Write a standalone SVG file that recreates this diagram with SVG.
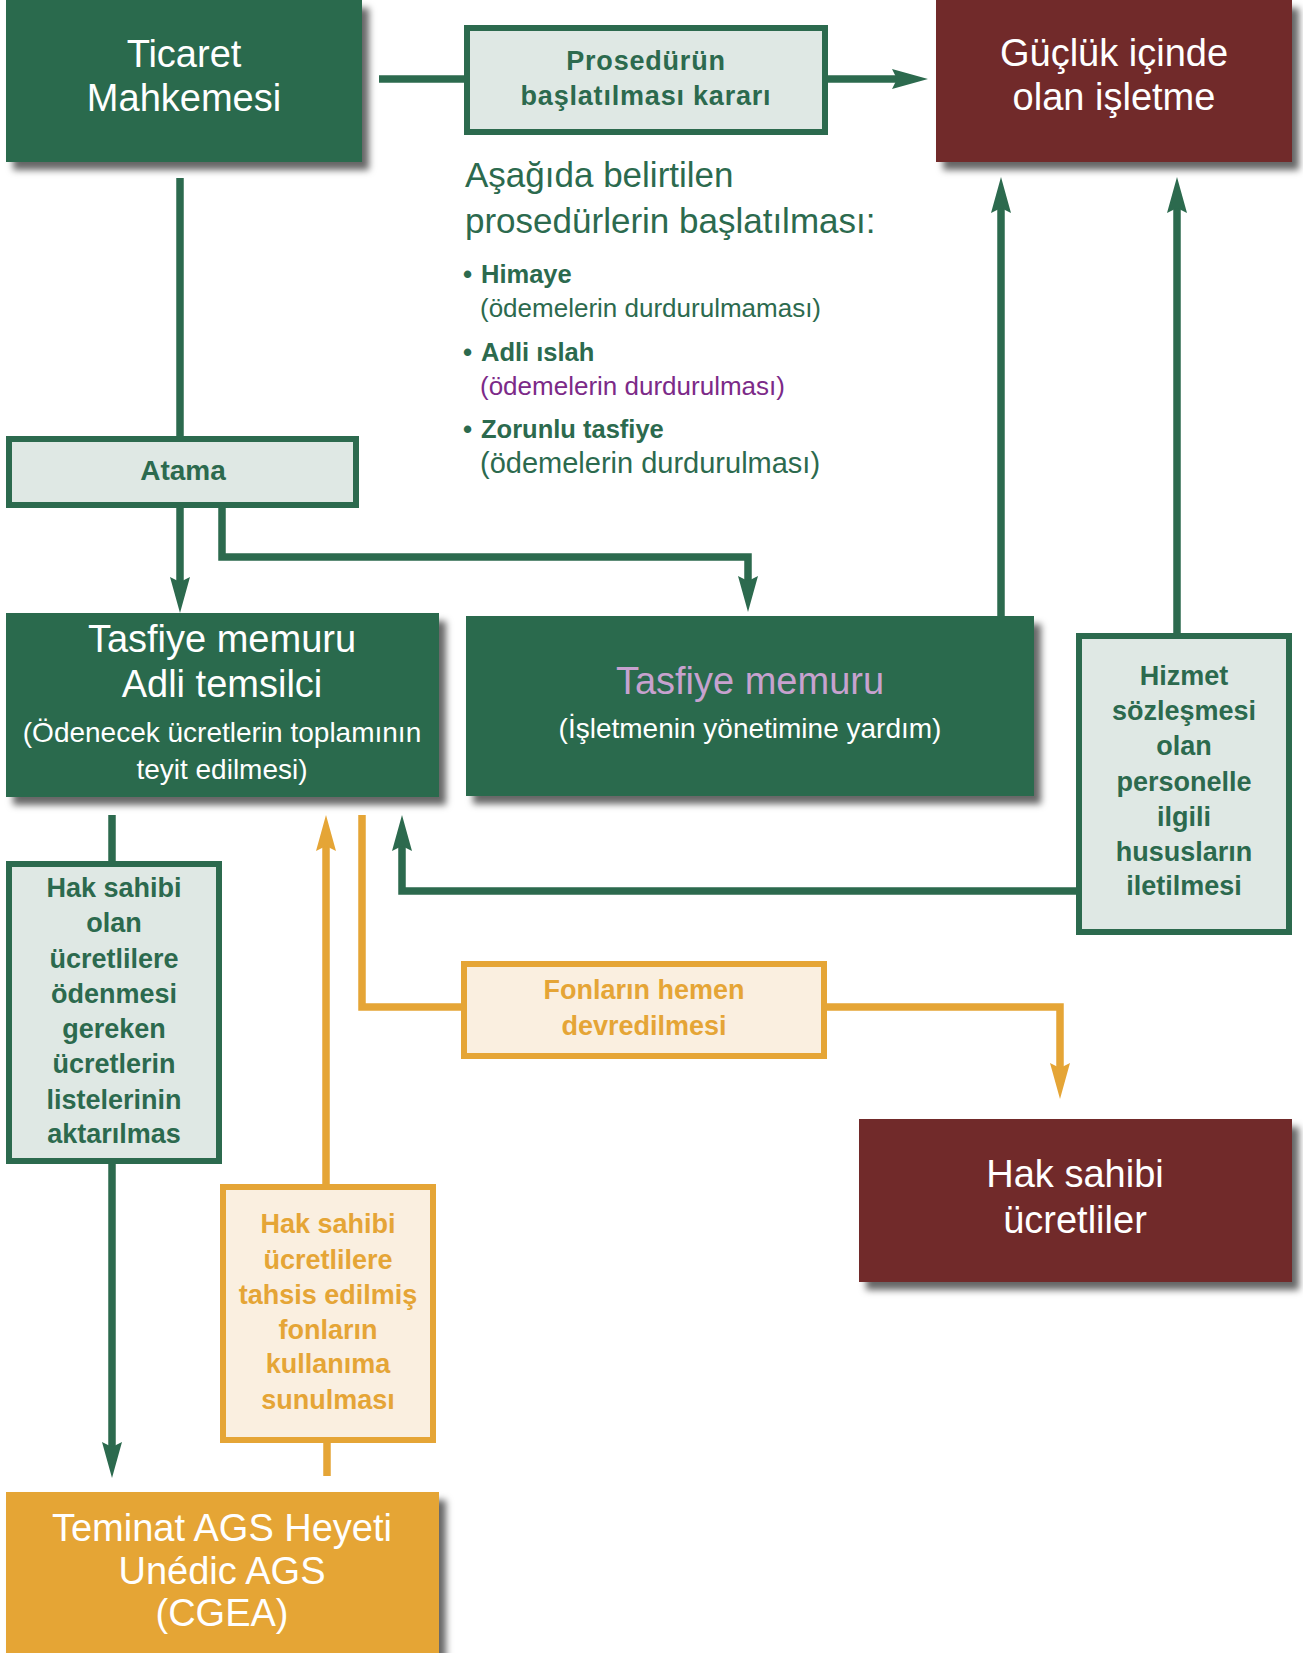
<svg xmlns="http://www.w3.org/2000/svg" width="1303" height="1653" viewBox="0 0 1303 1653">
<style>
text{font-family:"Liberation Sans",Arial,sans-serif;text-anchor:middle}
.big{font-size:38px;fill:#fff}
.sub{font-size:28px;fill:#fff}
.lb{font-size:27px;font-weight:bold;fill:#2c6a4e}
.ob{font-size:27px;font-weight:bold;fill:#e5a536}
.gl{fill:none;stroke:#2c6a4e;stroke-width:7.5}
.ol{fill:none;stroke:#e5a536;stroke-width:7.5}
.gbox{fill:#2c6a4e}
.rbox{fill:#71292a}
.obox{fill:#e5a536}
.lbox{fill:#dfe8e4;stroke:#2c6a4e;stroke-width:6}
.lobox{fill:#faefe0;stroke:#e5a536;stroke-width:6}
.info{font-family:"Liberation Sans",Arial,sans-serif;text-anchor:start;fill:#2c6a4e}
.bul{font-size:26px;font-weight:bold}
</style>
<defs>
<filter id="sh" x="-10%" y="-10%" width="130%" height="140%">
<feDropShadow dx="7" dy="8" stdDeviation="3.5" flood-color="#000" flood-opacity="0.6"/>
</filter>
<marker id="ag" markerUnits="userSpaceOnUse" markerWidth="40" markerHeight="24" refX="6" refY="11" orient="auto">
<path d="M0,1 L36,11 L0,21 L5,11 Z" fill="#2c6a4e"/>
</marker>
<marker id="ao" markerUnits="userSpaceOnUse" markerWidth="40" markerHeight="24" refX="6" refY="11" orient="auto">
<path d="M0,1 L36,11 L0,21 L5,11 Z" fill="#e5a536"/>
</marker>
</defs>
<rect width="1303" height="1653" fill="#fff"/>

<g id="connectors">
<path class="gl" d="M379,79 H464"/>
<path class="gl" d="M828,79 H898" marker-end="url(#ag)"/>
<path class="gl" d="M180,178 V436"/>
<path class="gl" d="M180,508 V583" marker-end="url(#ag)"/>
<path class="gl" d="M222,508 V557 H748 V582" marker-end="url(#ag)"/>
<path class="gl" d="M1001,616 V207" marker-end="url(#ag)"/>
<path class="gl" d="M1177,633 V207" marker-end="url(#ag)"/>
<path class="gl" d="M1076,891 H402 V845" marker-end="url(#ag)"/>
<path class="gl" d="M112,815 V861"/>
<path class="gl" d="M112,1164 V1448" marker-end="url(#ag)"/>
<path class="ol" d="M362,815 V1007 H461"/>
<path class="ol" d="M827,1007 H1060 V1069" marker-end="url(#ao)"/>
<path class="ol" d="M326,1184 V845" marker-end="url(#ao)"/>
<path class="ol" d="M327,1476 V1443"/>
</g>

<g id="ticaret">
<rect class="gbox" x="6" y="0" width="356" height="162" filter="url(#sh)"/>
<text class="big" x="184" y="67">Ticaret</text>
<text class="big" x="184" y="111">Mahkemesi</text>
</g>

<g id="prosedur">
<rect class="lbox" x="467" y="28" width="358" height="104"/>
<text class="lb" x="646" y="70" style="letter-spacing:0.8px">Prosedürün</text>
<text class="lb" x="646" y="105" style="letter-spacing:0.8px">başlatılması kararı</text>
</g>

<g id="guclu">
<rect class="rbox" x="936" y="0" width="356" height="162" filter="url(#sh)"/>
<text class="big" x="1114" y="66">Güçlük içinde</text>
<text class="big" x="1114" y="110">olan işletme</text>
</g>

<g id="info">
<text class="info" x="465" y="187" style="font-size:35px">Aşağıda belirtilen</text>
<text class="info" x="465" y="233" style="font-size:35px">prosedürlerin başlatılması:</text>
<text class="info bul" x="463" y="283">•</text>
<text class="info" x="481" y="283" style="font-size:25.5px;font-weight:bold">Himaye</text>
<text class="info" x="480" y="317" style="font-size:26px">(ödemelerin durdurulmaması)</text>
<text class="info bul" x="463" y="361">•</text>
<text class="info" x="481" y="361" style="font-size:25.5px;font-weight:bold">Adli ıslah</text>
<text class="info" x="480" y="395" style="font-size:26px;fill:#7c2a88">(ödemelerin durdurulması)</text>
<text class="info bul" x="463" y="438">•</text>
<text class="info" x="481" y="438" style="font-size:25.5px;font-weight:bold">Zorunlu tasfiye</text>
<text class="info" x="480" y="473" style="font-size:29px">(ödemelerin durdurulması)</text>
</g>

<g id="atama">
<rect class="lbox" x="9" y="439" width="347" height="66"/>
<text class="lb" x="183" y="480" style="font-size:28px">Atama</text>
</g>

<g id="tasfiye-adli">
<rect class="gbox" x="6" y="613" width="433" height="184" filter="url(#sh)"/>
<text class="big" x="222" y="652">Tasfiye memuru</text>
<text class="big" x="222" y="697">Adli temsilci</text>
<text class="sub" x="222" y="742">(Ödenecek ücretlerin toplamının</text>
<text class="sub" x="222" y="779">teyit edilmesi)</text>
</g>

<g id="tasfiye-yardim">
<rect class="gbox" x="466" y="616" width="568" height="180" filter="url(#sh)"/>
<text class="big" x="750" y="694" style="fill:#c7a2cf">Tasfiye memuru</text>
<text class="sub" x="750" y="738">(İşletmenin yönetimine yardım)</text>
</g>

<g id="hizmet">
<rect class="lbox" x="1079" y="636" width="210" height="296"/>
<text class="lb" x="1184" y="685">Hizmet</text>
<text class="lb" x="1184" y="720">sözleşmesi</text>
<text class="lb" x="1184" y="755">olan</text>
<text class="lb" x="1184" y="791">personelle</text>
<text class="lb" x="1184" y="826">ilgili</text>
<text class="lb" x="1184" y="861">hususların</text>
<text class="lb" x="1184" y="895">iletilmesi</text>
</g>

<g id="hak-listeler">
<rect class="lbox" x="9" y="864" width="210" height="297"/>
<text class="lb" x="114" y="897">Hak sahibi</text>
<text class="lb" x="114" y="932">olan</text>
<text class="lb" x="114" y="968">ücretlilere</text>
<text class="lb" x="114" y="1003">ödenmesi</text>
<text class="lb" x="114" y="1038">gereken</text>
<text class="lb" x="114" y="1073">ücretlerin</text>
<text class="lb" x="114" y="1109">listelerinin</text>
<text class="lb" x="114" y="1143">aktarılmas</text>
</g>

<g id="fonlar">
<rect class="lobox" x="464" y="964" width="360" height="92"/>
<text class="ob" x="644" y="999">Fonların hemen</text>
<text class="ob" x="644" y="1035">devredilmesi</text>
</g>

<g id="hak-ucretliler">
<rect class="rbox" x="859" y="1119" width="433" height="163" filter="url(#sh)"/>
<text class="big" x="1075" y="1187">Hak sahibi</text>
<text class="big" x="1075" y="1233">ücretliler</text>
</g>

<g id="fon-tahsis">
<rect class="lobox" x="223" y="1187" width="210" height="253"/>
<text class="ob" x="328" y="1233">Hak sahibi</text>
<text class="ob" x="328" y="1269">ücretlilere</text>
<text class="ob" x="328" y="1304">tahsis edilmiş</text>
<text class="ob" x="328" y="1339">fonların</text>
<text class="ob" x="328" y="1373">kullanıma</text>
<text class="ob" x="328" y="1409">sunulması</text>
</g>

<g id="ags">
<rect class="obox" x="6" y="1492" width="433" height="170" filter="url(#sh)"/>
<text class="big" x="222" y="1541">Teminat AGS Heyeti</text>
<text class="big" x="222" y="1584">Unédic AGS</text>
<text class="big" x="222" y="1626">(CGEA)</text>
</g>
</svg>
